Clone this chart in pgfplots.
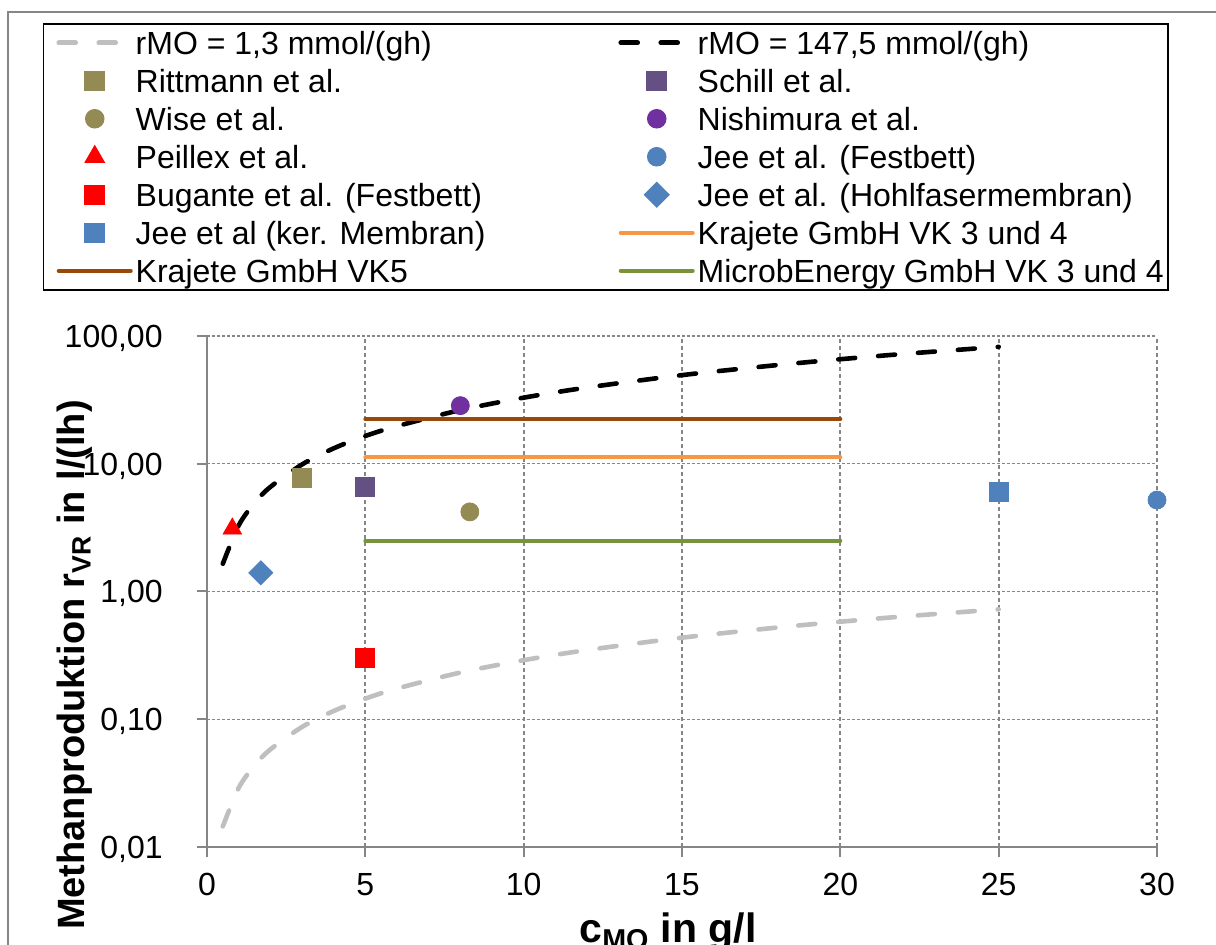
\documentclass[border=0pt]{standalone}
\usepackage{fontspec}
\setmainfont{Liberation Sans}
\usepackage{pgfplots}
\pgfplotsset{compat=1.18}
\definecolor{axgray}{HTML}{868686}
\definecolor{lgray}{HTML}{BFBFBF}
\definecolor{olive}{HTML}{948A54}
\definecolor{schill}{RGB}{100,80,130}
\definecolor{nishi}{HTML}{7030A0}
\definecolor{jblue}{HTML}{4F81BD}
\definecolor{korange}{HTML}{F79646}
\definecolor{kbrown}{HTML}{984807}
\definecolor{mgreen}{HTML}{77933C}
\newcommand\tf{\fontsize{16pt}{19pt}\selectfont}
\newcommand\ylbf{\fontsize{19pt}{22pt}\selectfont\bfseries}
\newcommand\xlbf{\fontsize{20.5pt}{23pt}\selectfont\bfseries}
\newcommand\lt[1]{\makebox[235pt][l]{#1}}
\begin{document}
\begin{tikzpicture}
\path[use as bounding box] (-103.5pt,-49pt) rectangle (504.5pt,423.5pt);
\begin{axis}[
  scale only axis, width=475pt, height=255.5pt,
  at={(0pt,0pt)}, anchor=south west,
  xmin=0, xmax=30, ymode=log, ymin=0.01, ymax=100,
  clip=false,
  axis x line*=bottom, axis y line*=left,
  axis line style={axgray, line width=1pt, -},
  xtick={0,5,10,15,20,25,30}, xticklabels={0,5,10,15,20,25,30},
  ytick={0.01,0.1,1,10,100}, yticklabels={{0,01},{0,10},{1,00},{10,00},{100,00}},
  yminorticks=false, xminorticks=false,
  tick align=outside, major tick length=5pt,
  tick style={axgray, line width=1pt},
  grid=major,
  x grid style={axgray, line width=0.9pt, dash pattern=on 2pt off 1.5pt},
  y grid style={axgray, line width=0.6pt, dash pattern=on 1.5pt off 1pt},
  ticklabel style={font=\tf},
  xticklabel style={anchor=base, inner sep=0pt, yshift=-19.5pt},
  yticklabel style={anchor=base east, inner sep=0pt, xshift=-17pt, yshift=-5.73pt},
  xlabel={c\textsubscript{MO} in g/l},
  xlabel style={font=\xlbf, at={(axis description cs:0.5,0)}, anchor=base, yshift=-48pt, xshift=-7pt},
  ylabel={Methanproduktion r\textsubscript{VR} in l/(lh)},
  ylabel style={font=\ylbf, at={(axis description cs:-0.1395,0.356)}, anchor=center},
  legend columns=2,
  legend style={at={(-0.172632,1.612524)}, anchor=north west, draw=black, line width=0.75pt,
    inner sep=0pt, column sep=0pt, row sep=0pt, font=\tf,
    nodes={inner sep=0pt, text height=15.25pt, text depth=3.75pt, anchor=west}},
  legend image code/.code={
    \path[draw=none,fill=none] (0pt,-7pt) rectangle (46pt,7pt);
    \draw[mark repeat=2,mark phase=2,#1] plot coordinates {(7.5pt,0pt) (25.5pt,0pt) (43.5pt,0pt)};},
]
% rMO = 1,3 mmol/(gh)
\addplot[lgray, mark=none, line width=2.3pt, line cap=round, dash pattern=on 8.5pt off 11.5pt, smooth]
  coordinates {(0.5,0.0145) (1,0.029) (1.5,0.0435) (2,0.058) (3,0.087) (4,0.116) (5,0.145) (6,0.174)
  (8,0.232) (10,0.29) (12,0.348) (15,0.435) (18,0.522) (20,0.58) (22,0.638) (25,0.725)};
\addlegendentry{\lt{rMO = 1,3 mmol/(gh)}}
% rMO = 147,5 mmol/(gh)
\addplot[black, mark=none, line width=2.3pt, line cap=round, dash pattern=on 8.5pt off 11.5pt, smooth]
  coordinates {(0.5,1.65) (1,3.29) (1.5,4.94) (2,6.58) (3,9.87) (4,13.2) (5,16.5) (6,19.7)
  (8,26.3) (10,32.9) (12,39.5) (15,49.4) (18,59.2) (20,65.8) (22,72.4) (25,82.3)};
\addlegendentry{\lt{rMO = 147,5 mmol/(gh)}}
\addplot[only marks, olive, mark=square*, mark size=4.75pt] coordinates {(3,7.7)};
\addlegendentry{\lt{Rittmann et al.}}
\addplot[only marks, schill, mark=square*, mark size=4.75pt] coordinates {(5,6.6)};
\addlegendentry{\lt{Schill et al.}}
\addplot[only marks, olive, mark=*, mark size=4.5pt] coordinates {(8.3,4.2)};
\addlegendentry{\lt{Wise et al.}}
\addplot[only marks, nishi, mark=*, mark size=4.5pt] coordinates {(8,28.5)};
\addlegendentry{\lt{Nishimura et al.}}
\addplot[only marks, red, mark=triangle*, mark size=5.3pt] coordinates {(0.8,3.1)};
\addlegendentry{\lt{Peillex et al.}}
\addplot[only marks, jblue, mark=*, mark size=4.5pt] coordinates {(30,5.2)};
\addlegendentry{\lt{Jee et al. (Festbett)}}
\addplot[only marks, red, mark=square*, mark size=4.75pt] coordinates {(5,0.3)};
\addlegendentry{\lt{Bugante et al. (Festbett)}}
\addplot[only marks, jblue, mark=square*, mark size=4.25pt, mark options={rotate=45}] coordinates {(1.7,1.4)};
\addlegendentry{\lt{Jee et al. (Hohlfasermembran)}}
\addplot[only marks, jblue, mark=square*, mark size=4.75pt] coordinates {(25,6.0)};
\addlegendentry{\lt{Jee et al (ker. Membran)}}
\addplot[korange, mark=none, line width=2pt, line cap=round] coordinates {(5,11.2) (20,11.2)};
\addlegendentry{\lt{Krajete GmbH VK 3 und 4}}
\addplot[kbrown, mark=none, line width=2pt, line cap=round] coordinates {(5,22.4) (20,22.4)};
\addlegendentry{\lt{Krajete GmbH VK5}}
\addplot[mgreen, mark=none, line width=2pt, line cap=round] coordinates {(5,2.5) (20,2.5)};
\addlegendentry{\lt{MicrobEnergy GmbH VK 3 und 4}}
\end{axis}
\draw[axgray, line width=1pt] (-99.5pt,-60pt) -- (-99.5pt,417.5pt) -- (520pt,417.5pt);
\end{tikzpicture}
\end{document}
